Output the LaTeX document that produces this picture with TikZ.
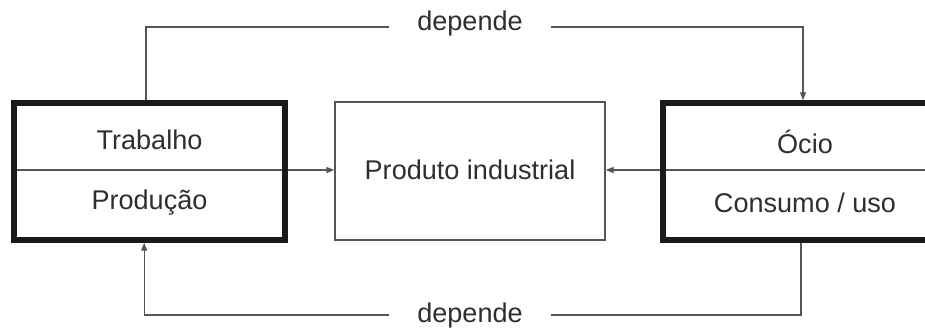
\documentclass[tikz,border=0pt]{standalone}
\usepackage{fontspec}
\setmainfont{Liberation Sans}
\usetikzlibrary{arrows.meta,backgrounds}
\definecolor{linegray}{HTML}{555555}
\definecolor{boxblack}{HTML}{1A1A1A}
\definecolor{txt}{HTML}{2E2E2E}
\begin{document}
\begin{tikzpicture}[x=0.75pt,y=-0.75pt,
  lbl/.style={font=\fontsize{20.3}{24}\selectfont, text=txt},
  heavybox/.style={draw=boxblack, line width=4.1pt, minimum height=102.75pt, inner sep=0pt},
  lightbox/.style={draw=linegray, line width=1pt, minimum height=103.5pt, minimum width=202.5pt, inner sep=0pt},
  conn/.style={draw=linegray, line width=1pt},
  arr/.style={conn, -{Triangle[length=6pt,width=4.5pt]}},
  gaplabel/.style={lbl, inner xsep=21pt, inner ysep=0pt}
]
\useasboundingbox (0,0) rectangle (925,331);
\clip (0,0) rectangle (925,331);

% the three boxes
\node[heavybox, minimum width=203.25pt] (L) at (149.5,171.5) {};
\node[lightbox] (C) at (470,171) {};
\node[heavybox, minimum width=213pt] (R) at (805,171.5) {};

% texts
\node[lbl] (t1) at (149.5,140) {Trabalho};
\node[lbl] (t2) at (149.5,203) {Produção};
\node[lbl] (t3) at (805,142) {Ócio};
\node[lbl] (t4) at (805,203) {Consumo / uso};
\node[lbl] (t5) at (470,170) {Produto industrial};

% "depende" labels on the feedback loops
\node[gaplabel] (d1) at (470,24) {depende};
\node[gaplabel] (d2) at (470,316) {depende};

% levels of the connector runs
\coordinate (ytop) at (0,27);
\coordinate (ybot) at (0,315);
\coordinate (ymid) at (0,170);

\begin{scope}[on background layer]
  \coordinate (lt) at ([xshift=-2.6pt]L.north);
  \coordinate (lb) at ([xshift=-4pt]L.south);
  \coordinate (rt) at ([xshift=-1.5pt]R.north);
  \coordinate (rb) at ([xshift=-3pt]R.south);
  \draw[conn] (lt) |- (d1.west |- ytop);
  \draw[arr] (d1.east |- ytop) -| (rt);
  \draw[conn] (rb) |- (d2.east |- ybot);
  \draw[arr] (d2.west |- ybot) -| (lb);
  \draw[arr] (L.west |- ymid) -- (C.west |- ymid);
  \draw[arr] (R.east |- ymid) -- (C.east |- ymid);
\end{scope}
\end{tikzpicture}
\end{document}
